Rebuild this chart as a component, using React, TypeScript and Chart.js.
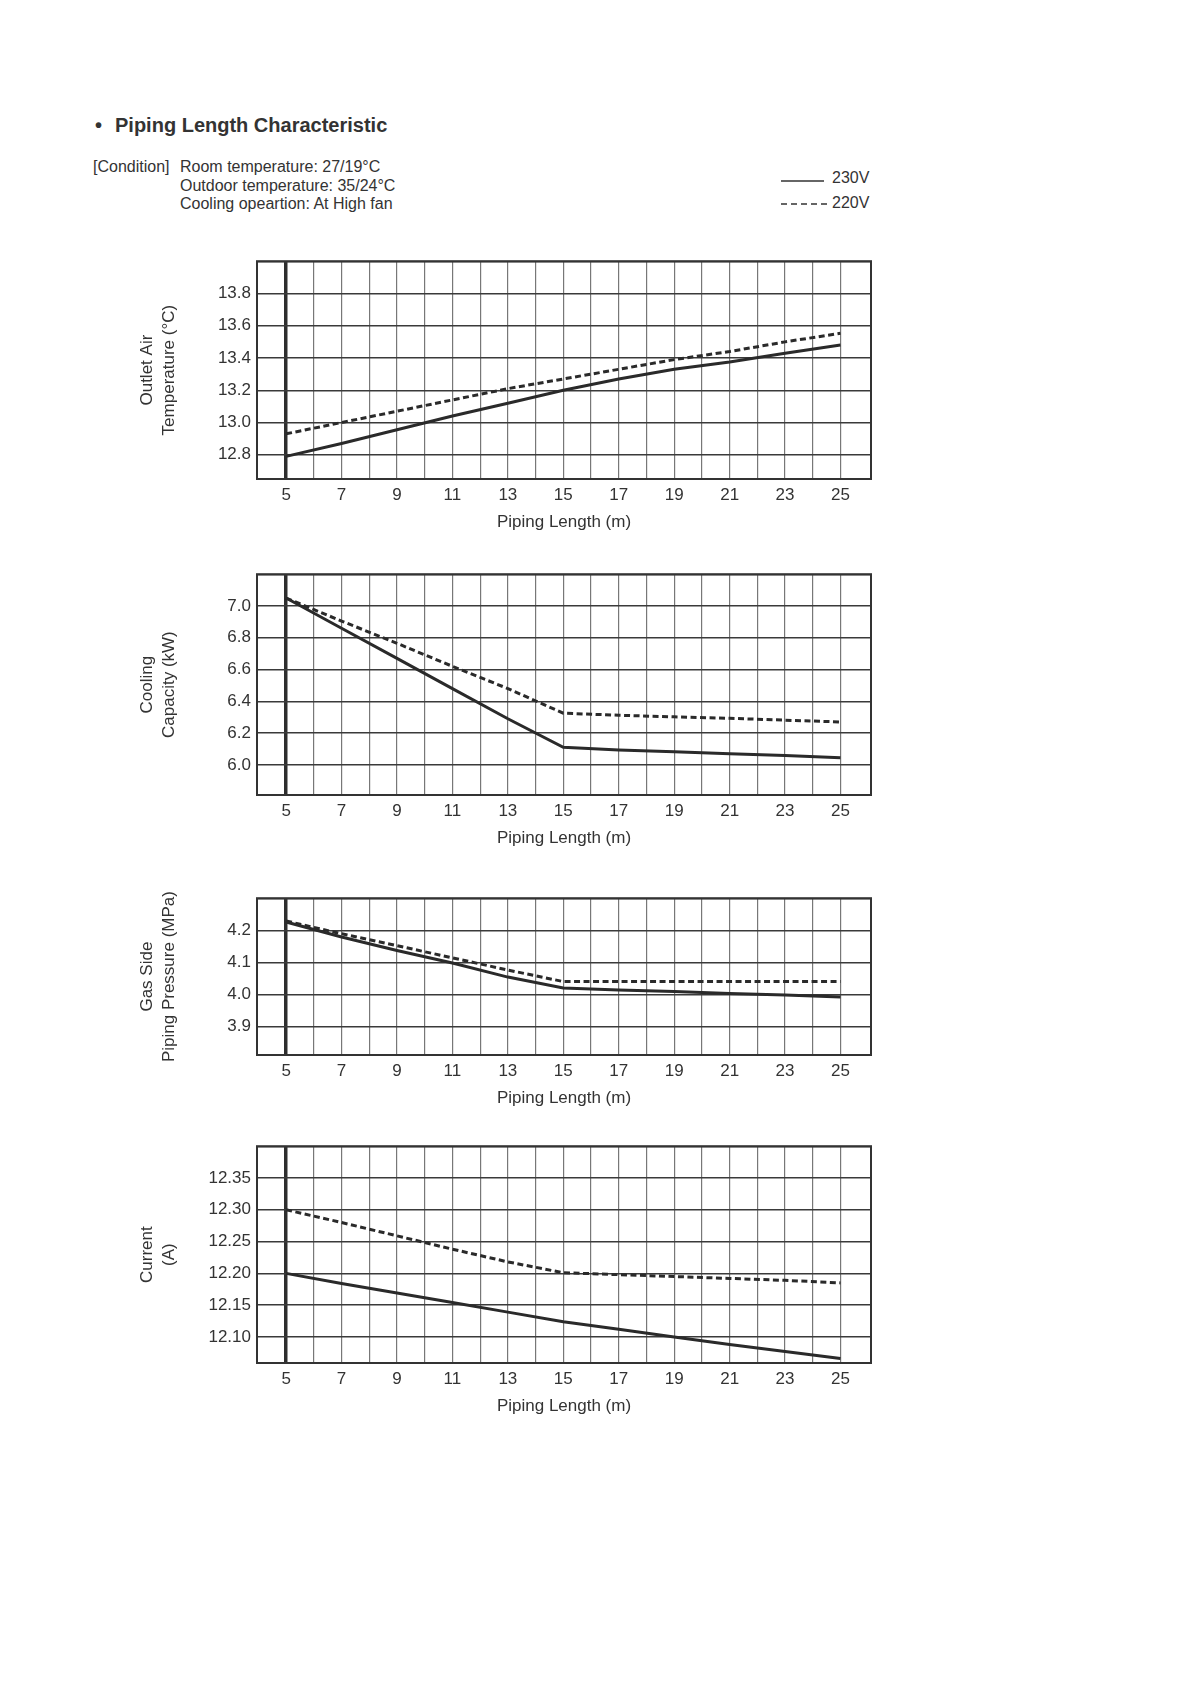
import React, { useEffect, useRef } from 'react';
import { Chart, registerables } from 'chart.js';

Chart.register(...registerables);

// ---------- data ----------
const pipingLength = [5, 7, 9, 11, 13, 15, 17, 19, 21, 23, 25];

const outletAir230 = [12.79, 12.87, 12.955, 13.04, 13.12, 13.2, 13.27, 13.33, 13.375, 13.43, 13.48];
const outletAir220 = [12.93, 13.0, 13.07, 13.14, 13.21, 13.27, 13.33, 13.39, 13.44, 13.5, 13.553];

const capacity230 = [7.05, 6.86, 6.67, 6.48, 6.29, 6.11, 6.093, 6.082, 6.07, 6.058, 6.045];
const capacity220 = [7.05, 6.905, 6.765, 6.62, 6.48, 6.325, 6.312, 6.302, 6.293, 6.281, 6.27];

const pressure230 = [4.226, 4.179, 4.137, 4.098, 4.054, 4.02, 4.014, 4.009, 4.003, 3.998, 3.992];
const pressure220 = [4.229, 4.189, 4.152, 4.114, 4.076, 4.04, 4.04, 4.04, 4.04, 4.04, 4.04];

const current230 = [12.2, 12.184, 12.169, 12.154, 12.139, 12.124, 12.112, 12.1, 12.088, 12.077, 12.066];
const current220 = [12.3, 12.28, 12.259, 12.238, 12.218, 12.201, 12.198, 12.195, 12.192, 12.189, 12.185];

// axis bounds and tick values
const lengthBounds = [3.95, 26.1];
const lengthTicks = [5, 6, 7, 8, 9, 10, 11, 12, 13, 14, 15, 16, 17, 18, 19, 20, 21, 22, 23, 24, 25];
const lengthTickLabels = [5, 7, 9, 11, 13, 15, 17, 19, 21, 23, 25];

const outletBounds = [12.65, 14.0];
const outletTicks = [12.8, 13.0, 13.2, 13.4, 13.6, 13.8, 14.0];
const capacityBounds = [5.81, 7.2];
const capacityTicks = [6.0, 6.2, 6.4, 6.6, 6.8, 7.0, 7.2];
const pressureBounds = [3.811, 4.3];
const pressureTicks = [3.9, 4.0, 4.1, 4.2, 4.3];
const currentBounds = [12.059, 12.4];
const currentTicks = [12.1, 12.15, 12.2, 12.25, 12.3, 12.35, 12.4];

const FONT = "'Liberation Sans', Arial, Helvetica, sans-serif";
const TEXT = '#333333';

const framePlugin = {
  id: 'frame',
  afterDraw(chart: any) {
    const { ctx, chartArea } = chart;
    ctx.save();
    ctx.strokeStyle = '#333333';
    ctx.lineWidth = 2;
    ctx.strokeRect(chartArea.left, chartArea.top, chartArea.right - chartArea.left, chartArea.bottom - chartArea.top);
    ctx.restore();
  },
};

type PanelProps = {
  top: number;
  frameHeight: number;
  bounds: number[];
  ticks: number[];
  decimals: number;
  yTitle: string[];
  s230: number[];
  s220: number[];
};

const CANVAS_LEFT = 120;
const CANVAS_WIDTH = 770;
const FRAME_WIDTH = 614;
const PAD_TOP = 12;
const PAD_BOTTOM = 5;
const X_HEIGHT = 54;
const Y_WIDTH = 137;

function Panel({ top, frameHeight, bounds, ticks, decimals, yTitle, s230, s220 }: PanelProps) {
  const ref = useRef<HTMLCanvasElement | null>(null);
  const height = PAD_TOP + frameHeight + X_HEIGHT + PAD_BOTTOM;

  useEffect(() => {
    if (!ref.current) return;
    const yMin = bounds[0];
    const yMax = bounds[1];
    const chart = new Chart(ref.current, {
      type: 'line',
      data: {
        datasets: [
          {
            label: '230V',
            data: pipingLength.map((x, i) => ({ x, y: s230[i] })),
            borderColor: '#2a2a2a',
            borderWidth: 3,
            pointRadius: 0,
            tension: 0,
            fill: false,
          },
          {
            label: '220V',
            data: pipingLength.map((x, i) => ({ x, y: s220[i] })),
            borderColor: '#2a2a2a',
            borderWidth: 3,
            borderDash: [6, 3.5],
            pointRadius: 0,
            tension: 0,
            fill: false,
          },
        ],
      },
      options: {
        animation: false,
        responsive: false,
        devicePixelRatio: 1,
        layout: { padding: { top: PAD_TOP, right: CANVAS_WIDTH - Y_WIDTH - FRAME_WIDTH, bottom: PAD_BOTTOM, left: 0 } },
        plugins: { legend: { display: false }, tooltip: { enabled: false } },
        scales: {
          x: {
            type: 'linear',
            min: lengthBounds[0],
            max: lengthBounds[1],
            afterBuildTicks: (scale: any) => {
              scale.ticks = lengthTicks.map((v) => ({ value: v }));
            },
            afterFit: (scale: any) => {
              scale.height = X_HEIGHT;
            },
            ticks: {
              autoSkip: false,
              maxRotation: 0,
              padding: 6,
              color: TEXT,
              font: { family: FONT, size: 17 },
              callback: (v: any) => (lengthTickLabels.includes(Number(v)) ? String(v) : ''),
            },
            grid: {
              drawTicks: false,
              color: (c: any) => (c.tick && c.tick.value === 5 ? '#2e2e2e' : '#777777'),
              lineWidth: (c: any) => (c.tick && c.tick.value === 5 ? 3.5 : 1.2),
            },
            border: { display: false },
            title: {
              display: true,
              text: 'Piping Length (m)',
              color: TEXT,
              font: { family: FONT, size: 17, lineHeight: 22 / 17 },
              padding: { top: 0, bottom: 0 },
            },
          },
          y: {
            type: 'linear',
            min: yMin,
            max: yMax,
            afterBuildTicks: (scale: any) => {
              scale.ticks = ticks.map((v) => ({ value: v }));
            },
            afterFit: (scale: any) => {
              scale.width = Y_WIDTH;
            },
            ticks: {
              padding: 6,
              color: TEXT,
              font: { family: FONT, size: 17 },
              callback: (v: any) => {
                const n = Number(v);
                if (Math.abs(n - yMax) < 1e-9) return '';
                return n.toFixed(decimals);
              },
            },
            grid: { drawTicks: false, color: '#3a3a3a', lineWidth: 1.4 },
            border: { display: false },
            title: {
              display: true,
              text: yTitle,
              color: TEXT,
              font: { family: FONT, size: 17, lineHeight: 22 / 17 },
              padding: { top: 16, bottom: 0 },
            },
          },
        },
      },
      plugins: [framePlugin],
    } as any);
    return () => chart.destroy();
  }, []);

  return (
    <canvas
      ref={ref}
      width={CANVAS_WIDTH}
      height={height}
      style={{ position: 'absolute', left: CANVAS_LEFT, top: top - PAD_TOP, width: CANVAS_WIDTH, height }}
    />
  );
}

export default function App() {
  const textStyle: React.CSSProperties = {
    position: 'absolute',
    fontFamily: FONT,
    color: TEXT,
    whiteSpace: 'nowrap',
  };
  return (
    <div style={{ position: 'absolute', left: 0, top: 0, width: 1190, height: 1684, background: '#ffffff' }}>
      <div style={{ ...textStyle, left: 95, top: 113, fontSize: 20, lineHeight: '24px', fontWeight: 'bold' }}>•</div>
      <div style={{ ...textStyle, left: 115, top: 113, fontSize: 20, lineHeight: '24px', fontWeight: 'bold' }}>
        Piping Length Characteristic
      </div>
      <div style={{ ...textStyle, left: 93, top: 158, fontSize: 16, lineHeight: '18.5px' }}>[Condition]</div>
      <div style={{ ...textStyle, left: 180, top: 158, fontSize: 16, lineHeight: '18.5px' }}>
        <div>Room temperature: 27/19°C</div>
        <div>Outdoor temperature: 35/24°C</div>
        <div>Cooling opeartion: At High fan</div>
      </div>
      <svg style={{ position: 'absolute', left: 775, top: 170, width: 56, height: 40 }} width={56} height={40}>
        <line x1={6} y1={11} x2={49} y2={11} stroke="#333" strokeWidth={1.5} />
        <line x1={6} y1={34} x2={52} y2={34} stroke="#333" strokeWidth={1.5} strokeDasharray="6 4" />
      </svg>
      <div style={{ ...textStyle, left: 832, top: 169, fontSize: 16, lineHeight: '18px' }}>230V</div>
      <div style={{ ...textStyle, left: 832, top: 194, fontSize: 16, lineHeight: '18px' }}>220V</div>

      <Panel top={257} frameHeight={222} bounds={outletBounds} ticks={outletTicks} decimals={1} yTitle={['Outlet Air', 'Temperature (°C)']} s230={outletAir230} s220={outletAir220} />
      <Panel top={570} frameHeight={225} bounds={capacityBounds} ticks={capacityTicks} decimals={1} yTitle={['Cooling', 'Capacity (kW)']} s230={capacity230} s220={capacity220} />
      <Panel top={894} frameHeight={161} bounds={pressureBounds} ticks={pressureTicks} decimals={1} yTitle={['Gas Side', 'Piping Pressure (MPa)']} s230={pressure230} s220={pressure220} />
      <Panel top={1142} frameHeight={221} bounds={currentBounds} ticks={currentTicks} decimals={2} yTitle={['Current', '(A)']} s230={current230} s220={current220} />
    </div>
  );
}
